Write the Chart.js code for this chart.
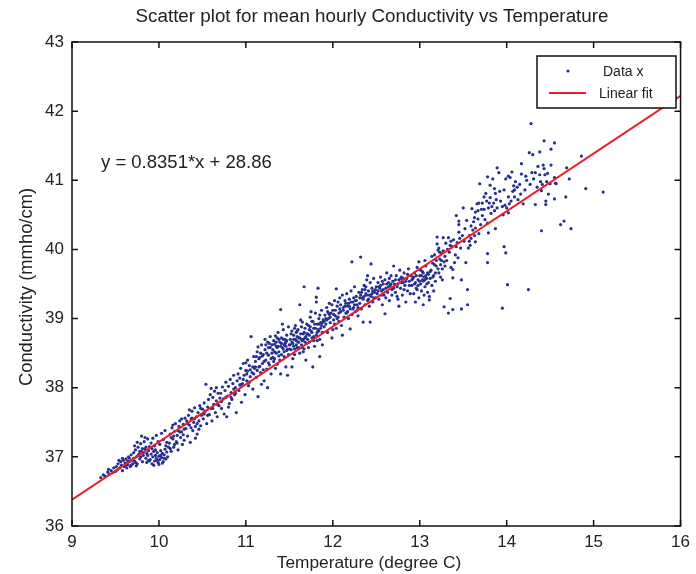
<!DOCTYPE html>
<html>
<head>
<meta charset="utf-8">
<script src="https://cdn.jsdelivr.net/npm/chart.js@4.4.1/dist/chart.umd.min.js"></script>
<style>
  html, body { margin: 0; padding: 0; background: #fff; }
  #wrap { width: 696px; height: 574px; position: relative; }
</style>
</head>
<body>
<div id="wrap"><canvas id="scatter"></canvas></div>
<script>
const chartTitle = 'Scatter plot for mean hourly Conductivity vs Temperature';
const xTitle = 'Temperature (degree C)';
const yTitle = 'Conductivity (mmho/cm)';
const fitLabel = 'y = 0.8351*x + 28.86';

const xTicks = [9, 10, 11, 12, 13, 14, 15, 16];
const yTicks = [36, 37, 38, 39, 40, 41, 42, 43];

// linear fit drawn across the full axis
const fitTemp = [9, 16];
const fitCond = [36.38, 42.22];

// [temperature, conductivity]
const readings = [
  [9.33,36.70],[9.36,36.74],[9.38,36.72],[9.41,36.78],[9.43,36.75],[9.45,36.80],[9.47,36.77],[9.48,36.84],[9.50,36.79],[9.42,36.82],
  [9.51,36.86],[9.52,36.81],[9.53,36.90],[9.55,36.84],[9.56,36.93],[9.57,36.88],[9.58,36.80],[9.59,36.95],[9.60,36.86],[9.61,36.91],
  [9.62,36.97],[9.63,36.84],[9.64,36.89],[9.65,37.00],[9.66,36.93],[9.67,36.86],[9.68,37.03],[9.69,36.95],[9.70,36.90],[9.54,36.95],
  [9.58,36.98],[9.62,36.88],[9.66,36.98],
  [9.71,37.06],[9.72,36.94],[9.73,37.10],[9.74,37.00],[9.75,36.90],[9.76,37.14],[9.77,37.04],[9.78,36.97],[9.79,37.19],[9.80,37.08],
  [9.81,36.93],[9.82,37.02],[9.83,37.22],[9.84,37.11],[9.85,36.98],[9.86,37.05],[9.87,37.26],[9.88,36.95],[9.89,37.15],[9.72,37.16],
  [9.75,37.21],[9.78,37.08],[9.81,37.12],[9.84,37.28],[9.86,36.92],[9.88,37.09],[9.74,36.87],[9.80,37.30],
  [9.90,36.96],[9.91,37.04],[9.92,36.90],[9.93,37.00],[9.94,37.08],[9.95,36.94],[9.96,37.02],[9.97,36.98],[9.98,37.06],[9.99,36.92],
  [10.00,37.01],[10.01,36.96],[10.02,37.09],[10.03,36.99],[10.04,37.05],[10.05,36.93],[10.06,37.03],[10.07,37.11],[10.08,36.97],[10.09,37.07],
  [10.10,37.00],[9.91,37.20],[9.93,37.27],[9.95,37.16],[9.97,37.31],[9.99,37.22],[10.01,37.18],[10.03,37.34],[10.05,37.25],[10.07,37.38],
  [10.09,37.21],[9.94,36.88],[10.00,36.89],[10.04,36.91],[10.11,37.14],
  [10.12,37.20],[10.13,37.33],[10.14,37.08],[10.15,37.42],[10.16,37.26],[10.17,37.14],[10.18,37.37],[10.19,37.48],[10.20,37.22],[10.21,37.31],
  [10.22,37.10],[10.23,37.44],[10.24,37.52],[10.25,37.28],[10.26,37.36],[10.27,37.18],[10.28,37.47],[10.29,37.40],[10.30,37.56],[10.14,37.28],
  [10.18,37.18],[10.22,37.38],[10.26,37.55],[10.29,37.24],[10.16,37.46],
  [10.31,37.41],[10.32,37.52],[10.33,37.30],[10.34,37.60],[10.35,37.46],[10.36,37.21],[10.37,37.55],[10.38,37.66],[10.39,37.38],[10.40,37.50],
  [10.41,37.71],[10.42,37.44],[10.43,37.58],[10.44,37.33],[10.45,37.64],[10.46,37.52],[10.47,37.74],[10.48,37.45],[10.49,37.60],[10.50,37.69],
  [10.35,37.68],[10.42,37.27],[10.46,37.40],[10.38,37.56],
  [10.51,37.55],[10.52,37.78],[10.53,37.66],[10.54,38.05],[10.55,37.48],[10.56,37.72],[10.57,37.83],[10.58,37.61],[10.59,37.90],[10.60,37.70],
  [10.61,37.52],[10.62,37.86],[10.63,37.76],[10.64,37.95],[10.65,37.64],[10.66,37.81],[10.67,37.58],[10.68,37.92],[10.69,37.74],[10.70,37.85],
  [10.60,37.99],[10.66,38.00],
  [10.71,37.92],[10.72,37.70],[10.73,38.01],[10.74,37.84],[10.75,37.62],[10.76,37.96],[10.77,38.08],[10.78,37.58],[10.79,37.88],[10.80,38.02],
  [10.81,37.77],[10.82,38.12],[10.83,37.93],[10.84,37.83],[10.85,38.06],[10.86,38.18],[10.87,37.90],[10.88,38.00],[10.89,37.64],[10.90,38.10],
  [10.80,37.72],[10.86,37.98],
  [10.91,38.20],[10.92,37.96],[10.93,38.14],[10.94,38.28],[10.95,37.79],[10.96,38.06],[10.97,38.35],[10.98,38.18],[10.99,37.90],[11.00,38.25],
  [11.01,38.10],[11.02,38.40],[11.03,38.03],[11.04,38.32],[11.05,38.16],[11.06,38.74],[11.07,38.22],[11.08,37.98],[11.09,38.45],[11.10,38.28],
  [10.94,38.04],[11.00,38.36],[11.04,38.08],[11.08,38.30],[11.02,38.24],
  [11.11,38.38],[11.12,38.15],[11.13,38.52],[11.14,38.59],[11.14,37.87],[11.15,38.30],[11.16,38.44],[11.17,38.22],[11.18,38.62],[11.19,38.35],
  [11.20,38.48],[11.21,38.10],[11.22,38.55],[11.23,38.40],[11.24,38.27],[11.25,38.00],[11.25,38.66],[11.26,38.47],[11.27,38.33],[11.28,38.58],
  [11.29,38.20],[11.30,38.50],[11.12,38.45],[11.16,38.31],[11.20,38.26],[11.22,38.70],[11.24,38.50],[11.27,38.64],[11.29,38.42],[11.18,38.05],
  [11.26,38.36],[11.13,38.25],[11.21,38.38],[11.28,38.74],
  [11.31,38.55],[11.32,38.68],[11.33,38.42],[11.34,38.75],[11.35,38.60],[11.36,38.34],[11.37,38.80],[11.38,38.52],[11.39,38.66],[11.40,39.13],
  [11.40,38.20],[11.41,38.72],[11.42,38.58],[11.43,38.84],[11.44,38.45],[11.45,38.64],[11.46,38.30],[11.47,38.76],[11.48,38.18],[11.48,38.56],
  [11.49,38.88],[11.50,38.62],[11.32,38.38],[11.35,38.50],[11.38,38.70],[11.41,38.48],[11.44,38.62],[11.47,38.54],[11.33,38.63],[11.36,38.72],
  [11.39,38.40],[11.42,38.92],[11.45,38.70],[11.49,38.48],[11.34,38.28],[11.46,38.66],[11.43,38.56],[11.37,38.60],
  [11.51,38.70],[11.52,38.55],[11.53,38.30],[11.53,38.82],[11.54,38.64],[11.55,38.76],[11.56,38.48],[11.57,38.90],[11.58,38.68],[11.59,38.58],
  [11.60,38.84],[11.61,38.72],[11.62,39.20],[11.62,38.50],[11.63,38.78],[11.64,38.62],[11.65,38.95],[11.66,38.70],[11.67,39.46],[11.67,38.56],
  [11.68,38.86],[11.69,38.74],[11.70,38.64],[11.52,38.78],[11.55,38.60],[11.58,38.80],[11.61,38.58],[11.64,38.88],[11.67,38.80],[11.70,38.92],
  [11.54,38.42],[11.57,38.70],[11.60,38.66],[11.63,38.98],[11.66,38.52],[11.69,38.40],[11.56,38.86],[11.59,38.74],[11.65,38.68],[11.68,38.66],
  [11.71,38.78],[11.72,38.90],[11.73,38.66],[11.74,39.02],[11.75,38.82],[11.76,38.72],[11.77,38.30],[11.77,38.96],[11.78,38.86],[11.79,38.60],
  [11.80,39.08],[11.81,39.31],[11.81,39.24],[11.81,38.76],[11.82,38.92],[11.83,39.44],[11.83,38.84],[11.84,39.00],[11.85,38.45],[11.85,38.70],
  [11.86,38.94],[11.87,39.12],[11.88,38.80],[11.89,38.98],[11.90,38.88],[11.73,38.84],[11.76,38.96],[11.79,38.92],[11.82,38.68],[11.85,39.05],
  [11.88,38.62],[11.72,38.58],[11.75,39.10],[11.78,38.74],[11.84,38.82],[11.87,38.90],
  [11.91,39.05],[11.92,38.92],[11.93,39.16],[11.94,38.80],[11.95,39.00],[11.96,39.22],[11.97,38.94],[11.98,39.08],[11.99,38.72],[12.00,39.12],
  [12.01,38.98],[12.02,39.26],[12.03,39.04],[12.04,39.43],[12.04,38.86],[12.05,39.18],[12.06,39.02],[12.07,38.96],[12.08,39.30],[12.09,39.10],
  [12.10,38.90],[11.93,38.98],[11.96,39.06],[11.99,39.20],[12.02,38.92],[12.05,39.00],[12.08,39.14],[11.94,39.10],[12.00,38.84],[12.06,39.24],
  [12.11,39.34],[12.11,38.76],[12.12,39.12],[12.13,39.02],[12.14,39.26],[12.15,39.08],[12.16,39.36],[12.17,39.18],[12.18,39.00],[12.19,39.28],
  [12.20,38.85],[12.20,39.14],[12.21,39.40],[12.22,39.82],[12.22,39.06],[12.23,39.24],[12.24,39.16],[12.25,39.46],[12.26,39.10],[12.27,39.32],
  [12.28,39.20],[12.29,39.04],[12.30,39.38],[12.14,39.18],[12.18,39.22],[12.24,39.30],[12.28,39.12],[12.16,39.08],[12.26,39.26],
  [12.31,39.22],[12.32,39.89],[12.32,39.34],[12.33,39.14],[12.34,39.42],[12.35,38.95],[12.35,39.28],[12.36,39.48],[12.37,39.20],[12.38,39.36],
  [12.39,39.56],[12.40,39.26],[12.41,39.40],[12.42,39.18],[12.43,38.95],[12.43,39.52],[12.44,39.79],[12.44,39.32],[12.45,39.44],[12.46,39.24],
  [12.47,39.58],[12.48,39.38],[12.49,39.30],[12.50,39.46],[12.34,39.30],[12.38,39.46],[12.42,39.34],[12.46,39.40],[12.40,39.62],
  [12.51,39.36],[12.52,39.52],[12.53,39.28],[12.54,39.44],[12.55,39.60],[12.56,39.40],[12.57,39.20],[12.58,39.50],[12.59,39.34],[12.60,39.07],
  [12.60,39.56],[12.61,39.44],[12.62,39.66],[12.63,39.38],[12.64,39.52],[12.65,39.26],[12.66,39.48],[12.67,39.62],[12.68,39.42],[12.69,39.54],
  [12.70,39.76],[12.53,39.46],[12.57,39.54],[12.61,39.30],[12.65,39.58],[12.68,39.34],
  [12.71,39.50],[12.72,39.38],[12.73,39.62],[12.74,39.46],[12.75,39.28],[12.76,39.56],[12.77,39.70],[12.78,39.44],[12.79,39.60],[12.80,39.34],
  [12.81,39.52],[12.82,39.66],[12.83,39.48],[12.84,39.24],[12.85,39.58],[12.86,39.40],[12.87,39.72],[12.88,39.54],[12.89,39.36],[12.90,39.62],
  [12.74,39.32],[12.78,39.58],[12.82,39.42],[12.86,39.64],[12.76,39.18],
  [12.91,39.48],[12.92,39.58],[12.93,39.36],[12.94,39.66],[12.95,39.52],[12.96,39.44],[12.97,39.74],[12.98,39.56],[12.99,39.30],[13.00,39.62],
  [13.01,39.50],[13.02,39.40],[13.03,39.68],[13.04,39.20],[13.04,39.54],[13.05,39.60],[13.06,39.46],[13.07,39.76],[13.08,39.58],[13.09,39.38],
  [13.10,39.64],[13.11,39.32],[13.11,39.27],[12.93,39.60],[12.97,39.42],[13.01,39.70],[13.05,39.34],[13.08,39.50],[12.95,39.24],[13.03,39.56],
  [13.07,39.62],[13.10,39.52],[13.06,39.84],[12.99,39.82],
  [13.12,39.58],[13.13,39.70],[13.14,39.48],[13.15,39.80],[13.16,39.62],[13.17,39.92],[13.18,39.54],[13.19,39.76],[13.20,40.18],[13.20,40.08],
  [13.21,39.99],[13.22,39.66],[13.23,39.86],[13.24,39.60],[13.25,39.94],[13.26,39.72],[13.27,40.17],[13.28,39.17],[13.28,39.82],[13.29,39.90],
  [13.30,40.09],[13.14,39.90],[13.18,39.66],[13.22,40.02],[13.26,39.56],[13.16,39.40],[13.24,39.78],
  [13.31,39.84],[13.33,40.17],[13.33,39.08],[13.34,39.96],[13.35,39.29],[13.36,39.74],[13.37,40.04],[13.38,39.59],[13.38,39.13],[13.38,39.71],
  [13.40,39.81],[13.41,39.92],[13.42,40.49],[13.43,40.10],[13.44,39.88],[13.45,40.25],[13.45,40.41],[13.45,40.36],[13.47,40.02],[13.48,39.56],
  [13.48,39.14],[13.49,40.20],[13.36,40.12],
  [13.50,40.60],[13.52,40.30],[13.53,39.81],[13.55,39.42],[13.55,39.20],[13.56,40.02],[13.57,40.12],[13.57,40.20],[13.58,40.06],[13.59,40.16],
  [13.60,40.59],[13.61,40.28],[13.62,40.40],[13.63,40.20],[13.64,40.54],[13.64,40.31],[13.64,40.11],[13.66,40.66],[13.67,40.44],[13.68,40.67],
  [13.68,40.23],[13.69,40.95],[13.70,40.36],[13.54,40.42],
  [13.72,40.67],[13.72,40.49],[13.74,40.58],[13.75,40.43],[13.76,40.81],[13.77,40.70],[13.78,40.38],[13.78,41.05],[13.78,39.94],[13.78,39.81],
  [13.79,40.60],[13.79,40.24],[13.80,40.67],[13.81,40.93],[13.81,40.75],[13.82,40.52],[13.84,41.02],[13.85,40.67],[13.86,40.88],[13.87,40.81],
  [13.87,40.30],[13.88,40.72],[13.89,41.18],[13.89,40.60],
  [13.91,41.11],[13.92,40.84],[13.95,40.62],[13.95,39.15],[13.96,40.50],[13.97,40.04],[13.98,40.64],[13.99,39.95],[13.99,41.02],[14.00,40.60],
  [14.01,39.49],[14.02,41.06],[14.02,40.53],[14.02,40.76],[14.04,41.04],[14.05,40.70],[14.06,41.12],[14.08,40.92],[14.09,40.86],[14.09,40.76],
  [14.10,40.98],
  [14.13,40.72],[14.15,40.94],[14.17,41.24],[14.17,41.09],[14.19,40.66],[14.21,40.86],[14.23,41.00],[14.25,39.42],[14.26,41.40],[14.28,41.82],
  [14.29,41.11],[14.30,41.37],
  [14.33,41.11],[14.33,40.65],[14.35,40.90],[14.38,41.41],[14.38,41.08],[14.39,40.98],[14.40,40.85],[14.40,40.27],[14.42,41.22],[14.43,41.57],
  [14.43,41.17],[14.44,41.08],[14.45,40.70],[14.45,40.65],[14.46,40.98],[14.48,40.80],[14.50,40.95],[14.51,41.45],[14.51,41.22],
  [14.55,41.54],[14.55,40.73],[14.55,41.04],[14.56,40.96],[14.57,40.95],[14.62,40.36],[14.66,40.41],[14.68,40.76],[14.69,41.18],[14.72,41.02],
  [14.74,40.30],[14.86,41.35],[14.91,40.88],[15.11,40.83],
  // second pass over the densest parts of the band
  [9.64,36.94],[9.68,36.88],[9.71,36.98],[9.73,36.92],[9.76,37.02],[9.79,37.00],[9.82,37.06],[9.85,37.14],[9.87,37.02],[9.89,36.94],
  [9.92,37.12],[9.96,37.10],[9.98,36.95],[10.02,37.02],[10.06,36.98],[10.08,37.16],[10.13,37.12],[10.17,37.30],[10.21,37.20],[10.24,37.36],
  [10.28,37.32],[10.33,37.48],[10.37,37.42],[10.41,37.55],[10.44,37.48],[10.48,37.70],[10.52,37.62],[10.56,37.60],[10.62,37.70],[10.67,37.76],
  [10.72,37.80],[10.77,37.86],[10.83,37.86],[10.88,37.92],[10.93,38.04],[10.97,38.12],[11.01,38.20],[11.05,38.26],[11.09,38.20],[11.11,38.30],
  [11.15,38.42],[11.17,38.50],[11.19,38.46],[11.23,38.62],[11.26,38.58],[11.30,38.62],[11.31,38.44],[11.33,38.52],[11.35,38.66],[11.36,38.58],
  [11.38,38.46],[11.40,38.60],[11.41,38.64],[11.43,38.70],[11.44,38.52],[11.46,38.60],[11.47,38.68],[11.50,38.56],[11.51,38.62],[11.53,38.66],
  [11.55,38.70],[11.56,38.56],[11.58,38.62],[11.59,38.82],[11.61,38.66],[11.62,38.72],[11.64,38.70],[11.65,38.58],[11.66,38.78],[11.68,38.72],
  [11.70,38.78],[11.71,38.70],[11.73,38.76],[11.74,38.88],[11.76,38.80],[11.78,38.68],[11.80,38.86],[11.82,38.80],[11.84,38.92],[11.86,38.86],
  [11.88,38.94],[11.90,38.96],[11.92,39.00],[11.95,39.08],[11.97,39.02],[12.01,39.06],[12.03,39.12],[12.07,39.08],[12.09,39.20],[12.12,39.16],
  [12.15,39.22],[12.17,39.10],[12.19,39.18],[12.21,39.24],[12.23,39.14],[12.25,39.20],[12.27,39.26],[12.29,39.16],[12.31,39.30],[12.33,39.38],
  [12.36,39.32],[12.37,39.42],[12.39,39.34],[12.41,39.28],[12.45,39.36],[12.47,39.30],[12.49,39.42],[12.52,39.40],[12.55,39.48],[12.56,39.34],
  [12.58,39.42],[12.62,39.50],[12.64,39.46],[12.67,39.50],[12.70,39.44],[12.72,39.56],[12.75,39.50],[12.79,39.52],[12.81,39.58],[12.84,39.54],
  [12.88,39.48],[12.91,39.56],[12.94,39.50],[12.96,39.62],[12.98,39.48],[13.00,39.54],[13.02,39.62],[13.04,39.66],[13.06,39.56],[13.09,39.66],
  [13.12,39.68],[13.15,39.60],[13.17,39.78],[13.19,39.84],[13.21,39.72],[13.23,39.96],[13.25,39.84],[13.27,39.98],[13.29,39.76],[13.32,40.00],
  [13.35,40.06],[13.39,40.14],[13.42,40.04],[13.46,40.16],[13.51,40.12],[13.59,40.34],[13.63,40.46],[13.67,40.56],[13.71,40.58],[13.74,40.76],
  [13.83,40.62],[13.86,40.56],[13.93,40.70],[13.97,40.86],[14.03,40.66],[14.07,40.84],[14.12,40.90],[14.16,40.80],[14.22,41.06],[14.27,40.94],
  [14.31,41.02],[14.36,41.20],[14.41,40.94],[14.47,41.10]
];

const dotColor = '#27308f';
const fitColor = '#ee1d23';
const FONT = '"Liberation Sans", Arial, sans-serif';

// box, inward ticks, titles, fit label and legend in matlab style
const matlabFrame = {
  id: 'matlabFrame',
  afterDraw(chart) {
    const { ctx, chartArea: a, scales: { x, y } } = chart;
    ctx.save();
    ctx.strokeStyle = '#111';
    ctx.lineWidth = 1.5;
    ctx.strokeRect(a.left, a.top, a.width, a.height);
    ctx.beginPath();
    xTicks.forEach(v => {
      const px = x.getPixelForValue(v);
      ctx.moveTo(px, a.bottom); ctx.lineTo(px, a.bottom - 6);
      ctx.moveTo(px, a.top); ctx.lineTo(px, a.top + 6);
    });
    yTicks.forEach(v => {
      const py = y.getPixelForValue(v);
      ctx.moveTo(a.left, py); ctx.lineTo(a.left + 6, py);
      ctx.moveTo(a.right, py); ctx.lineTo(a.right - 6, py);
    });
    ctx.stroke();

    ctx.fillStyle = '#222';
    ctx.textBaseline = 'middle';
    ctx.textAlign = 'center';
    ctx.font = '18.8px ' + FONT;
    ctx.fillText(chartTitle, 372, 17);
    ctx.font = '17.3px ' + FONT;
    ctx.fillText(xTitle, 369, 563);
    ctx.save();
    ctx.translate(27, 287);
    ctx.rotate(-Math.PI / 2);
    ctx.font = '18.4px ' + FONT;
    ctx.fillText(yTitle, 0, 0);
    ctx.restore();

    ctx.textAlign = 'left';
    ctx.font = '18.5px ' + FONT;
    ctx.fillText(fitLabel, 101, 163);

    // legend
    ctx.fillStyle = '#fff';
    ctx.fillRect(537, 56, 139, 52);
    ctx.strokeStyle = '#111';
    ctx.lineWidth = 1.5;
    ctx.strokeRect(537, 56, 139, 52);
    ctx.fillStyle = dotColor;
    ctx.beginPath();
    ctx.arc(568, 71, 1.6, 0, Math.PI * 2);
    ctx.fill();
    ctx.strokeStyle = fitColor;
    ctx.lineWidth = 2;
    ctx.beginPath();
    ctx.moveTo(549, 93); ctx.lineTo(586, 93);
    ctx.stroke();
    ctx.fillStyle = '#222';
    ctx.font = '14px ' + FONT;
    ctx.fillText('Data x', 603, 72);
    ctx.fillText('Linear fit', 599, 94);
    ctx.restore();
  }
};

new Chart(document.getElementById('scatter').getContext('2d'), {
  type: 'scatter',
  data: {
    datasets: [
      {
        label: 'Linear fit',
        data: fitTemp.map((t, i) => ({ x: t, y: fitCond[i] })),
        showLine: true,
        borderColor: fitColor,
        borderWidth: 2,
        pointRadius: 0,
        order: 0
      },
      {
        label: 'Data x',
        data: readings.map(r => ({ x: r[0], y: r[1] })),
        backgroundColor: dotColor,
        borderWidth: 0,
        pointRadius: 1.6,
        order: 1
      }
    ]
  },
  plugins: [matlabFrame],
  options: {
    responsive: true,
    maintainAspectRatio: false,
    animation: false,
    layout: { padding: { top: 42, right: 9, left: 0, bottom: 0 } },
    plugins: { legend: { display: false }, tooltip: { enabled: false } },
    scales: {
      x: {
        type: 'linear',
        min: 9,
        max: 16,
        afterFit: s => { s.height = 48; },
        afterBuildTicks: s => { s.ticks = xTicks.map(v => ({ value: v })); },
        grid: { display: false, drawTicks: false },
        border: { display: false },
        ticks: { padding: 6, color: '#222', font: { size: 17, family: FONT } }
      },
      y: {
        type: 'linear',
        min: 36,
        max: 43,
        afterFit: s => { s.width = 72; },
        afterBuildTicks: s => { s.ticks = yTicks.map(v => ({ value: v })); },
        grid: { display: false, drawTicks: false },
        border: { display: false },
        ticks: { padding: 8, color: '#222', font: { size: 17, family: FONT } }
      }
    }
  }
});
</script>
</body>
</html>
